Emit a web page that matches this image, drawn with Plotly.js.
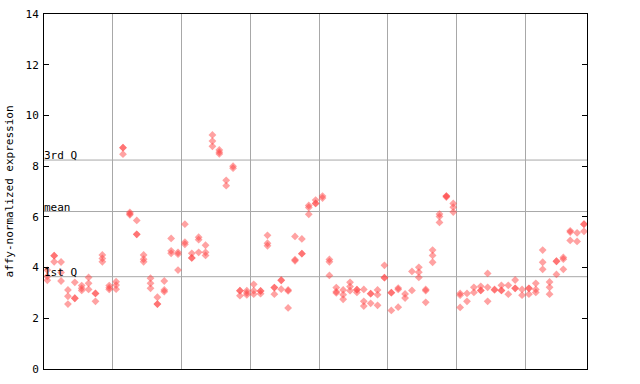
<!DOCTYPE html>
<html>
<head>
<meta charset="utf-8">
<script src="https://cdn.plot.ly/plotly-3.0.1.min.js"></script>
<style>html,body{margin:0;padding:0;background:#fff;}#chart{width:640px;height:384px;}</style>
</head>
<body>
<div id="chart"></div>
<script>
// Replicate values per sample, grouped in blocks of ten samples
const group1 = [[3.9,3.65,3.5],[4.47,4.47,4.23],[4.22,3.81,3.47],[3.12,2.87,2.56],[3.42,2.79,2.79],[3.29,3.18,3.1],[3.61,3.38,3.14],[2.98,2.98,2.67],[4.5,4.36,4.23],[3.29,3.2,3.14]];
const group2 = [[3.44,3.31,3.15],[8.73,8.73,8.47],[6.18,6.12,6.08],[5.86,5.31,5.31],[4.5,4.33,4.23],[3.58,3.38,3.18],[2.83,2.56,2.56],[3.47,3.12,3.05],[5.15,4.66,4.56],[4.6,4.53,3.9]];
const group3 = [[5.71,5.0,4.92],[4.56,4.38,4.38],[5.2,5.1,4.6],[4.88,4.6,4.48],[9.23,8.99,8.78],[8.64,8.55,8.48],[7.44,7.23],[8.0,7.92],[3.09,3.09,2.89],[3.09,3.0,2.92]];
const group4 = [[3.34,3.09,2.95],[3.08,3.08,2.97],[5.27,4.96,4.86],[3.21,3.21,2.95],[3.5,3.5,3.15],[3.12,3.08,2.41],[5.23,4.31,4.27],[5.13,4.55,4.55],[6.45,6.37,6.1],[6.66,6.53,6.53]];
const group5 = [[6.82,6.74],[4.32,4.23,3.69],[3.21,3.05,3.0],[3.12,2.93,2.75],[3.42,3.25,3.09],[3.13,3.13,3.02],[3.14,2.67,2.48],[2.97,2.97,2.59],[3.12,2.93,2.51],[4.09,3.6,3.6]];
const group6 = [[3.01,3.01,2.31],[3.19,3.14,2.44],[2.96,2.8],[3.85,3.1],[4.01,3.82,3.61],[3.14,3.09,2.63],[4.69,4.48,4.21],[6.11,6.01,5.78],[6.82,6.82,6.78],[6.53,6.38,6.19]];
const group7 = [[2.98,2.91,2.43],[2.98,2.67],[3.22,3.02],[3.26,3.1,3.1],[3.77,3.22,2.67],[3.14,3.12],[3.3,3.1,3.1],[3.3,2.95],[3.51,3.18,3.18],[3.14,2.91]];
const group8 = [[3.18,3.18,2.95],[3.38,3.14,3.02],[4.69,4.21,3.93],[3.43,3.22,2.95],[4.25,4.25,3.73],[4.4,4.33,3.93],[5.45,5.4,5.07],[5.37,5.03],[5.71,5.71,5.43]];

const refLabels = ["3rd Q", "mean", "1st Q"];
const refValues = [8.24, 6.21, 3.64];
const groupBounds = [9.5, 19.5, 29.5, 39.5, 49.5, 59.5, 69.5];
const yTicks = [0, 2, 4, 6, 8, 10, 12, 14];

const allSamples = [].concat(group1, group2, group3, group4, group5, group6, group7, group8);
const xs = [], ys = [];
allSamples.forEach((vals, i) => vals.forEach(v => { xs.push(i); ys.push(v); }));

const mono = "DejaVu Sans Mono, monospace";
const shapes = refValues.map(v => ({
  type: 'line', xref: 'paper', x0: 0, x1: 1, yref: 'y', y0: v, y1: v,
  line: {color: '#a8a8a8', width: 1}, layer: 'below'
}));
const annotations = refLabels.map((t, k) => ({
  text: t, xref: 'paper', x: 0, xanchor: 'left', yref: 'y', y: refValues[k], yanchor: 'bottom',
  showarrow: false, font: {family: mono, size: 11, color: '#000'}, borderpad: 0, xshift: -1, yshift: -3
}));

Plotly.newPlot('chart', [{
  x: xs, y: ys, type: 'scatter', mode: 'markers',
  marker: {symbol: 'diamond', size: 6, color: 'rgba(255,70,70,0.5)', line: {width: 0}},
  hoverinfo: 'none'
}], {
  width: 640, height: 384,
  margin: {l: 44, r: 53, t: 14, b: 15},
  paper_bgcolor: '#fff', plot_bgcolor: '#fff',
  showlegend: false,
  xaxis: {
    range: [-0.48, 78.44], tickvals: groupBounds, showticklabels: false, ticks: '',
    showgrid: true, gridcolor: '#a8a8a8', gridwidth: 1, zeroline: false,
    showline: true, linecolor: '#000', linewidth: 1, mirror: true
  },
  yaxis: {
    range: [0, 14], tickvals: yTicks, ticktext: yTicks.map(String),
    ticks: 'inside', ticklen: 5, tickcolor: '#000', showgrid: false, zeroline: false,
    showline: true, linecolor: '#000', linewidth: 1, mirror: 'ticks',
    tickfont: {family: mono, size: 11, color: '#000'}, ticklabelstandoff: 2,
    title: {text: 'affy-normalized expression', font: {family: mono, size: 11, color: '#000'}, standoff: 9}
  },
  shapes: shapes, annotations: annotations
}, {staticPlot: true});
</script>
</body>
</html>
